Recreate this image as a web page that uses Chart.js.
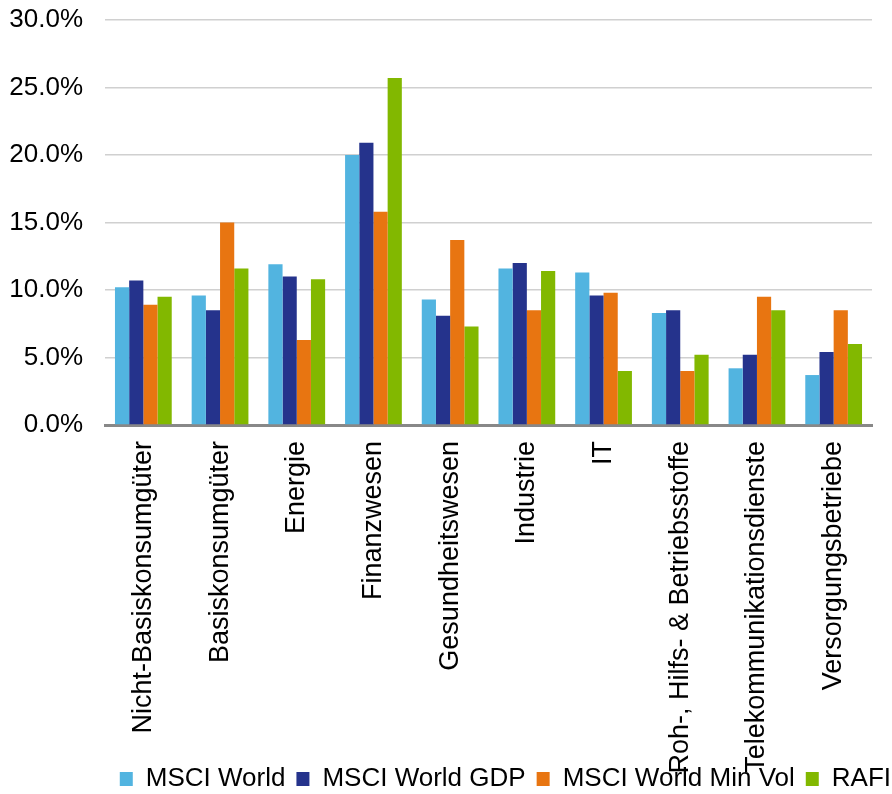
<!DOCTYPE html>
<html>
<head>
<meta charset="utf-8">
<script src="https://cdn.jsdelivr.net/npm/chart.js@4/dist/chart.umd.min.js"></script>
<style>
  html, body { margin: 0; padding: 0; background: #fff; }
  #wrap { width: 892px; height: 794px; }
</style>
</head>
<body>
<div id="wrap"><canvas id="myChart" width="892" height="794"></canvas></div>
<script>
var sektoren = ['Nicht-Basiskonsumgüter', 'Basiskonsumgüter', 'Energie', 'Finanzwesen', 'Gesundheitswesen',
    'Industrie', 'IT', 'Roh-, Hilfs- & Betriebsstoffe', 'Telekommunikationsdienste', 'Versorgungsbetriebe'];

var msciWorld = [10.2, 9.6, 11.9, 20.0, 9.3, 11.6, 11.3, 8.3, 4.2, 3.7];
var msciWorldGdp = [10.7, 8.5, 11.0, 20.9, 8.1, 12.0, 9.6, 8.5, 5.2, 5.4];
var msciWorldMinVol = [8.9, 15.0, 6.3, 15.8, 13.7, 8.5, 9.8, 4.0, 9.5, 8.5];
var rafi = [9.5, 11.6, 10.8, 25.7, 7.3, 11.4, 4.0, 5.2, 8.5, 6.0];

var yTicks = [0, 5, 10, 15, 20, 25, 30];

Chart.defaults.font.family = '"Liberation Sans", Arial, sans-serif';
Chart.defaults.font.size = 26;
Chart.defaults.color = '#000';

// labels der x-achse duerfen in die legende ragen, legende etwas nach unten/rechts
var layoutFix = {
    id: 'layoutFix',
    afterLayout: function (chart) {
        chart.scales.x.bottom = chart.height;
        var lg = chart.legend;
        lg.top += 8; lg.bottom += 8;
        lg.left += 10; lg.right += 10;
    }
};

function grafico() {
    var ctx = document.getElementById('myChart').getContext('2d');

    var chart = new Chart(ctx, {
        type: 'bar',
        data: {
            labels: sektoren,
            datasets: [
                { label: 'MSCI World', backgroundColor: '#52b4e0', data: msciWorld },
                { label: 'MSCI World GDP', backgroundColor: '#25338c', data: msciWorldGdp },
                { label: 'MSCI World Min Vol', backgroundColor: '#e87511', data: msciWorldMinVol },
                { label: 'RAFI', backgroundColor: '#82b800', data: rafi }
            ]
        },
        plugins: [layoutFix],
        options: {
            responsive: false,
            animation: false,
            categoryPercentage: 0.74,
            barPercentage: 1.0,
            layout: { padding: 0 },
            plugins: {
                tooltip: { enabled: false },
                legend: {
                    position: 'bottom',
                    align: 'end',
                    labels: {
                        boxWidth: 13,
                        boxHeight: 14,
                        padding: 11,
                        color: '#000',
                        font: { size: 26 }
                    }
                }
            },
            scales: {
                x: {
                    grid: { display: false, drawTicks: false },
                    border: { display: true, color: '#888888', width: 3 },
                    ticks: {
                        minRotation: 90,
                        maxRotation: 90,
                        autoSkip: false,
                        padding: 16,
                        color: '#000',
                        font: { size: 27 }
                    },
                    afterFit: function (scale) {
                        scale.height = 322;
                        scale.paddingLeft = 0;
                        scale.paddingRight = 20;
                    }
                },
                y: {
                    min: 0,
                    max: 30,
                    afterBuildTicks: function (scale) {
                        scale.ticks = yTicks.map(function (v) { return { value: v }; });
                    },
                    grid: { color: '#d0d0d0', lineWidth: 1.5, drawTicks: false },
                    border: { display: false },
                    ticks: {
                        padding: 22,
                        color: '#000',
                        callback: function (v) { return v.toFixed(1) + '%'; }
                    },
                    afterFit: function (scale) {
                        scale.width = 105;
                        scale.paddingTop = 20;
                    }
                }
            }
        }
    });
}

grafico();
</script>
</body>
</html>
